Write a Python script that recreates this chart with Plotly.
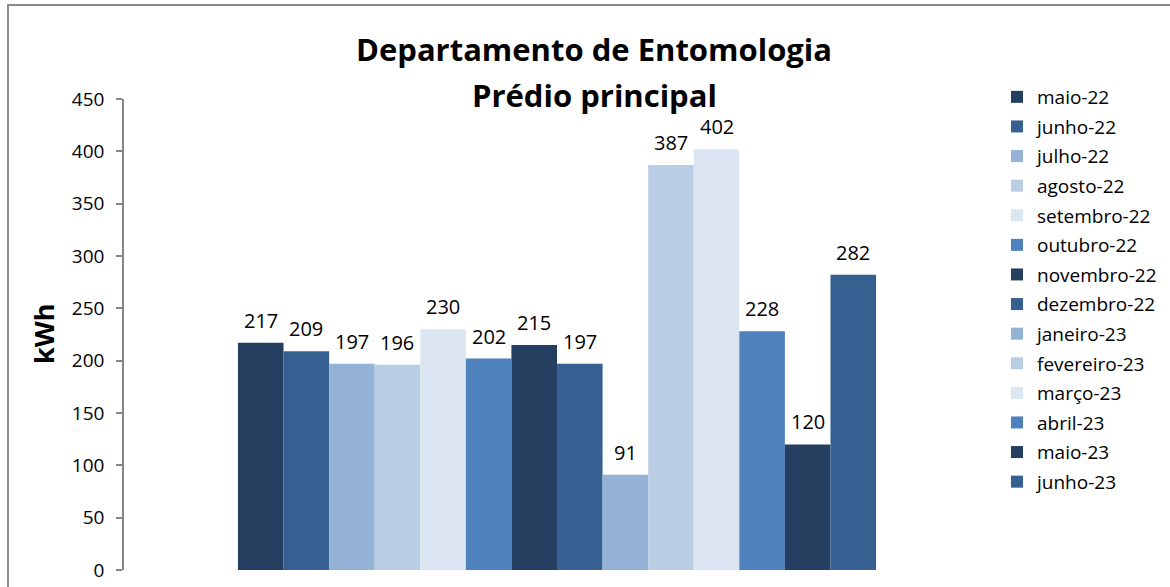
import plotly.graph_objects as go

months = ["maio-22", "junho-22", "julho-22", "agosto-22", "setembro-22", "outubro-22",
          "novembro-22", "dezembro-22", "janeiro-23", "fevereiro-23", "março-23",
          "abril-23", "maio-23", "junho-23"]
values = [217, 209, 197, 196, 230, 202, 215, 197, 91, 387, 402, 228, 120, 282]
palette = ["#243F60", "#366092", "#95B3D7", "#B9CDE5", "#DCE6F2", "#4F81BD"]
y_ticks = [0, 50, 100, 150, 200, 250, 300, 350, 400, 450]

FONT = "Open Sans"
W, H = 1170, 587
L, R, T, B = 124, 180, 99, 17
pw, ph = W - L - R, H - T - B

def px_x(p):
    return (p - L) / pw

def px_y(p):
    return (H - B - p) / ph

fig = go.Figure()
for i, (m, v) in enumerate(zip(months, values)):
    fig.add_trace(go.Bar(
        x=[i], y=[v], name=m, width=1.0,
        marker=dict(color=palette[i % len(palette)], line=dict(width=0)),
        legendgroup=m, showlegend=True, hoverinfo="name+y",
    ))
    fig.add_annotation(x=i, y=v, text=str(v), showarrow=False, yanchor="middle",
                       yshift=22.5, font=dict(family=FONT, size=20, color="#000000"))

fig.add_annotation(xref="paper", yref="paper", x=px_x(594), y=px_y(49),
                   text="<b>Departamento de Entomologia</b>", showarrow=False,
                   xanchor="center", yanchor="middle",
                   font=dict(family=FONT, size=31, color="#000000"))
fig.add_annotation(xref="paper", yref="paper", x=px_x(594), y=px_y(95),
                   text="<b>Prédio principal</b>", showarrow=False,
                   xanchor="center", yanchor="middle",
                   font=dict(family=FONT, size=31, color="#000000"))
fig.add_annotation(xref="paper", yref="paper", x=px_x(43), y=px_y(334),
                   text="<b>kWh</b>", showarrow=False, textangle=-90,
                   xanchor="center", yanchor="middle",
                   font=dict(family=FONT, size=27, color="#000000"))

fig.add_shape(type="rect", xref="paper", yref="paper",
              x0=px_x(8), x1=px_x(1200), y0=px_y(620), y1=px_y(5),
              line=dict(color="#8C8C8C", width=2), fillcolor="rgba(0,0,0,0)", layer="below")

fig.update_layout(
    width=W, height=H,
    margin=dict(l=L, r=R, t=T, b=B, pad=0, autoexpand=False),
    paper_bgcolor="white", plot_bgcolor="white",
    barmode="overlay",
    font=dict(family=FONT, size=19, color="#000000"),
    showlegend=True,
    legend=dict(xref="container", yref="container",
                x=997 / W, y=1 - 78 / H, xanchor="left", yanchor="top",
                traceorder="grouped", tracegroupgap=1.9, maxheight=560,
                font=dict(family=FONT, size=19, color="#000000"),
                bgcolor="rgba(0,0,0,0)", itemclick=False, itemdoubleclick=False),
    xaxis=dict(range=[-3, 16], visible=False, fixedrange=True),
    yaxis=dict(range=[0, 450], tickvals=y_ticks, ticktext=[str(t) for t in y_ticks],
               showgrid=False, zeroline=False, showline=True, linecolor="#868686",
               linewidth=1.5, ticks="outside", ticklen=6, tickcolor="#868686",
               tickwidth=1.5, ticklabelstandoff=8, automargin=False,
               tickfont=dict(family=FONT, size=19, color="#000000"), fixedrange=True),
)

fig.write_html("out.html", config={"displayModeBar": False},
               post_script="document.body.style.margin='0px';")
